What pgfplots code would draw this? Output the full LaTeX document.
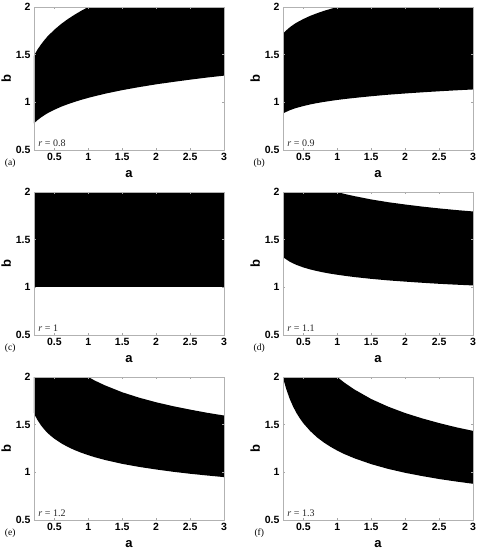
\documentclass[border=0pt]{standalone}
\usepackage{fontspec}
\setmainfont{Liberation Sans}
\newfontfamily\serif{Liberation Serif}
\usepackage{pgfplots}
\pgfplotsset{compat=1.18}
\pgfplotsset{
  panel/.style={
    scale only axis, width=190pt, height=143pt,
    xmin=0.2, xmax=3, ymin=0.5, ymax=2,
    xtick={0.5,1,1.5,2,2.5,3}, ytick={0.5,1,1.5,2},
    tick align=inside, major tick length=2pt,
    tick style={gray!70, line width=0.4pt},
    axis line style={gray!60, line width=0.5pt},
    ticklabel style={font=\fontsize{10.5}{12}\selectfont\bfseries},
    /pgf/number format/assume math mode=true,
    xlabel={a}, ylabel={b},
    label style={font=\fontsize{13}{14}\selectfont\bfseries},
    xlabel style={yshift=-3pt},
    ylabel style={yshift=-2pt},
    clip=true, axis on top, clip mode=individual,
  },
  reg/.style={fill=black, draw=none},
}
\newcommand{\tags}[2]{%
  \node[font=\serif\fontsize{10}{11}\selectfont, anchor=west, text=black!85] at (rel axis cs:0.005,0.05) {\textit{r} = #2};
  \node[font=\serif\fontsize{9.5}{11}\selectfont, anchor=center] at (rel axis cs:-0.125,-0.095) {(#1)};
}
\begin{document}
\begin{tikzpicture}
\path[use as bounding box] (0pt,0pt) rectangle (480pt,-550pt);
% (a) r=0.8
\begin{axis}[panel, at={(34pt,-7pt)}, anchor=north west]
\addplot[reg] coordinates {(0.2,0.780) (0.25,0.812) (0.3,0.840) (0.35,0.864) (0.4,0.886) (0.5,0.922) (0.6,0.954) (0.7,0.981) (0.8,1.005) (0.9,1.027) (1,1.047) (1.1,1.065) (1.25,1.091) (1.5,1.128) (1.75,1.160) (2,1.189) (2.25,1.214) (2.5,1.238) (2.75,1.260) (3,1.280)
 (3,2) (1,2) (0.9,1.962) (0.8,1.920) (0.7,1.874) (0.6,1.822) (0.5,1.762) (0.4,1.692) (0.35,1.650) (0.3,1.604) (0.25,1.552) (0.2,1.490)} -- cycle;
\tags{a}{0.8}
\end{axis}
% (b) r=0.9
\begin{axis}[panel, at={(283pt,-7pt)}, anchor=north west]
\addplot[reg] coordinates {(0.2,0.883) (0.25,0.901) (0.3,0.917) (0.35,0.930) (0.4,0.942) (0.5,0.961) (0.6,0.978) (0.7,0.992) (0.8,1.004) (0.9,1.015) (1,1.025) (1.1,1.034) (1.25,1.046) (1.5,1.064) (1.75,1.080) (2,1.093) (2.25,1.105) (2.5,1.116) (2.75,1.126) (3,1.135)
 (3,2) (1,2) (0.9,1.980) (0.8,1.959) (0.7,1.934) (0.6,1.907) (0.5,1.874) (0.4,1.836) (0.35,1.813) (0.3,1.787) (0.25,1.756) (0.2,1.720)} -- cycle;
\tags{b}{0.9}
\end{axis}
% (c) r=1
\begin{axis}[panel, at={(34pt,-192pt)}, anchor=north west]
\addplot[reg] coordinates {(0.2,1.005) (3,1.005) (3,2) (0.2,2)} -- cycle;
\tags{c}{1}
\end{axis}
% (d) r=1.1
\begin{axis}[panel, at={(283pt,-192pt)}, anchor=north west]
\addplot[reg] coordinates {(0.2,1.319) (0.22,1.307) (0.25,1.292) (0.3,1.269) (0.35,1.251) (0.4,1.235) (0.5,1.209) (0.6,1.188) (0.7,1.171) (0.8,1.156) (0.9,1.143) (1,1.132) (1.1,1.122) (1.25,1.108) (1.5,1.089) (1.75,1.073) (2,1.060) (2.25,1.048) (2.5,1.037) (2.75,1.028) (3,1.020)
 (3,1.796) (2.75,1.811) (2.5,1.828) (2.25,1.847) (2,1.869) (1.75,1.893) (1.5,1.922) (1.25,1.957) (1.1,1.981) (1,2) (0.2,2)} -- cycle;
\tags{d}{1.1}
\end{axis}
% (e) r=1.2
\begin{axis}[panel, at={(34pt,-377pt)}, anchor=north west]
\addplot[reg] coordinates {(0.2,1.620) (0.22,1.590) (0.25,1.551) (0.3,1.496) (0.35,1.451) (0.4,1.413) (0.45,1.381) (0.5,1.353) (0.6,1.305) (0.7,1.266) (0.8,1.233) (0.9,1.205) (1,1.180) (1.1,1.158) (1.25,1.129) (1.5,1.089) (1.75,1.057) (2,1.030) (2.25,1.006) (2.5,0.985) (2.75,0.967) (3,0.950)
 (3,1.596) (2.75,1.625) (2.5,1.658) (2.25,1.694) (2,1.735) (1.75,1.783) (1.5,1.840) (1.25,1.911) (1.1,1.961) (1,2) (0.2,2)} -- cycle;
\tags{e}{1.2}
\end{axis}
% (f) r=1.3
\begin{axis}[panel, at={(283pt,-377pt)}, anchor=north west]
\addplot[reg] coordinates {(0.2,2.000) (0.22,1.943) (0.25,1.869) (0.3,1.769) (0.35,1.688) (0.4,1.621) (0.45,1.564) (0.5,1.515) (0.6,1.434) (0.7,1.368) (0.8,1.314) (0.9,1.268) (1,1.228) (1.1,1.193) (1.25,1.148) (1.5,1.086) (1.75,1.036) (2,0.995) (2.25,0.961) (2.5,0.930) (2.75,0.904) (3,0.880)
 (3,1.435) (2.75,1.473) (2.5,1.517) (2.25,1.566) (2,1.622) (1.75,1.689) (1.5,1.769) (1.25,1.870) (1.1,1.943) (1,2) (0.2,2)} -- cycle;
\tags{f}{1.3}
\end{axis}
\end{tikzpicture}
\end{document}
